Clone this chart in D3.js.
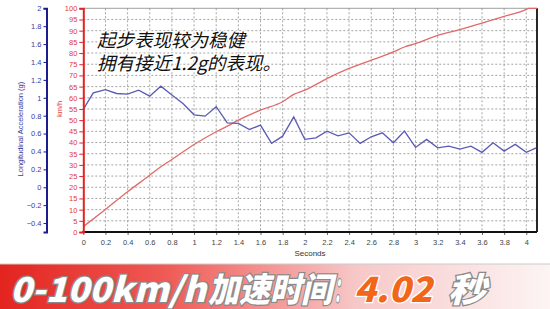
<!DOCTYPE html>
<html>
<head>
<meta charset="utf-8">
<script src="https://cdn.jsdelivr.net/npm/d3@7"></script>
<style>
  body { margin: 0; background: #fff; }
  svg { display: block; }
</style>
</head>
<body>
<script>
const width = 550;
const height = 309;

// time axis (s)
const times = [0, 0.09, 0.2, 0.3, 0.4, 0.5, 0.6, 0.7, 0.8, 0.9, 1.0, 1.1, 1.2, 1.3, 1.4, 1.5, 1.6, 1.7, 1.8, 1.9,
  2.0, 2.1, 2.2, 2.3, 2.4, 2.5, 2.6, 2.7, 2.8, 2.9, 3.0, 3.1, 3.2, 3.3, 3.4, 3.5, 3.6, 3.7, 3.8, 3.9, 4.0, 4.09];
// longitudinal acceleration (g)
const accel = [0.87, 1.055, 1.09, 1.048, 1.04, 1.085, 1.018, 1.13, 1.03, 0.936, 0.81, 0.795, 0.90, 0.72, 0.713, 0.646, 0.694, 0.49, 0.571, 0.787,
  0.535, 0.553, 0.627, 0.575, 0.608, 0.49, 0.564, 0.608, 0.497, 0.627, 0.445, 0.535, 0.441, 0.46, 0.426, 0.46, 0.39, 0.497, 0.404, 0.479, 0.39, 0.441];

// speed curve (km/h)
const speedTimes = [0, 0.2, 0.4, 0.6, 0.7, 0.8, 1.0, 1.2, 1.3, 1.4, 1.6, 1.8, 1.9, 2.0, 2.2, 2.4, 2.6, 2.8, 2.9, 3.0, 3.2, 3.4, 3.6, 3.8, 4.0, 4.02, 4.096];
const speeds = [2.4, 10.1, 18, 25.4, 29.2, 32.4, 39.1, 44.8, 47.3, 50, 54.5, 58.2, 61.5, 63.4, 68.6, 73.1, 76.8, 80.5, 82.7, 84.2, 87.9, 90.5, 93.4, 96.4, 99.5, 100, 100];

const xTicks = d3.range(0, 4.01, 0.2).map(v => +v.toFixed(1));
const speedTicks = d3.range(0, 101, 5);
const accelTicks = d3.range(-0.4, 2.01, 0.2).map(v => +v.toFixed(1));

const annotation = ["起步表现较为稳健", "拥有接近1.2g的表现。"];

const plotLeft = 83.3, plotRight = 537, plotTop = 8.3, plotBottom = 232;

const x = d3.scaleLinear().domain([0, 4]).range([plotLeft, 526.3]);
const ySpeed = d3.scaleLinear().domain([0, 100]).range([plotBottom, plotTop]);
const yAccel = d3.scaleLinear().domain([-0.5, 2]).range([plotBottom, plotTop]);

const svg = d3.select("body").append("svg")
  .attr("width", width)
  .attr("height", height)
  .style("font-family", "Arial, 'Liberation Sans', sans-serif");

svg.append("rect").attr("width", width).attr("height", height).attr("fill", "#fff");

// grid
const grid = svg.append("g")
  .attr("stroke", "#9a9a9a")
  .attr("stroke-width", 0.9)
  .attr("stroke-dasharray", "2,2");

grid.selectAll("line.v")
  .data(xTicks.filter(d => d > 0))
  .join("line")
    .attr("class", "v")
    .attr("x1", d => x(d)).attr("x2", d => x(d))
    .attr("y1", plotTop).attr("y2", plotBottom);

grid.selectAll("line.h")
  .data(speedTicks.filter(d => d > 0 && d < 100))
  .join("line")
    .attr("class", "h")
    .attr("x1", plotLeft).attr("x2", plotRight)
    .attr("y1", d => ySpeed(d)).attr("y2", d => ySpeed(d));

// frame top + right
svg.append("line")
  .attr("x1", plotLeft).attr("x2", plotRight)
  .attr("y1", plotTop).attr("y2", plotTop)
  .attr("stroke", "#888").attr("stroke-width", 0.8);
svg.append("line")
  .attr("x1", plotRight).attr("x2", plotRight)
  .attr("y1", plotTop).attr("y2", plotBottom)
  .attr("stroke", "#111").attr("stroke-width", 1.8);

// lines
const speedLine = d3.line()
  .x((d, i) => x(speedTimes[i]))
  .y(d => ySpeed(d))
  .curve(d3.curveMonotoneX);

svg.append("path")
  .datum(speeds)
  .attr("fill", "none")
  .attr("stroke", "#e06a6a")
  .attr("stroke-width", 1.3)
  .attr("d", speedLine);

const accelLine = d3.line()
  .x((d, i) => x(times[i]))
  .y(d => yAccel(d));

svg.append("path")
  .datum(accel)
  .attr("fill", "none")
  .attr("stroke", "#5a5ab4")
  .attr("stroke-width", 1.3)
  .attr("d", accelLine);

// x axis
const xAxis = svg.append("g")
  .attr("transform", `translate(0,${plotBottom})`)
  .call(d3.axisBottom(x).tickValues(xTicks).tickFormat(d3.format("~g")).tickSize(3).tickPadding(5));
xAxis.select(".domain").remove();
xAxis.selectAll(".tick line").attr("stroke", "#666");
xAxis.selectAll("text").attr("fill", "#444").style("font-size", "7.5px");
svg.append("line")
  .attr("x1", plotLeft - 1).attr("x2", plotRight)
  .attr("y1", plotBottom).attr("y2", plotBottom)
  .attr("stroke", "#111").attr("stroke-width", 2);

svg.append("text")
  .attr("x", 310).attr("y", 256)
  .attr("text-anchor", "middle")
  .attr("fill", "#333")
  .style("font-size", "8px")
  .text("Seconds");

// speed axis (red)
const speedAxis = svg.append("g")
  .attr("transform", `translate(${plotLeft},0)`)
  .call(d3.axisLeft(ySpeed).tickValues(speedTicks).tickSize(4).tickPadding(2));
speedAxis.select(".domain").attr("stroke", "#e02424").attr("stroke-width", 2);
speedAxis.selectAll(".tick line").attr("stroke", "#e02424");
speedAxis.selectAll("text").attr("fill", "#e03a3a").style("font-size", "7.5px");

svg.append("text")
  .attr("transform", `translate(62,${ySpeed(55)}) rotate(-90)`)
  .attr("text-anchor", "middle")
  .attr("fill", "#e03a3a")
  .style("font-size", "7.5px")
  .text("km/h");

// accel axis (blue)
const accelAxis = svg.append("g")
  .attr("transform", "translate(46.5,0)")
  .call(d3.axisLeft(yAccel).tickValues(accelTicks).tickFormat(d3.format("~g")).tickSize(3).tickPadding(2));
accelAxis.select(".domain").attr("stroke", "#1c1c8c").attr("stroke-width", 2);
accelAxis.selectAll(".tick line").attr("stroke", "#1c1c8c");
accelAxis.selectAll("text").attr("fill", "#3a3aa0").style("font-size", "7.5px");

svg.append("text")
  .attr("transform", `translate(23,${yAccel(0.65)}) rotate(-90)`)
  .attr("text-anchor", "middle")
  .attr("fill", "#3a3aa0")
  .style("font-size", "7.5px")
  .text("Longitudinal Acceleration (g)");

// annotation (one text block, two lines)
svg.append("text")
  .attr("fill", "#111")
  .attr("stroke", "#fff")
  .attr("stroke-width", 2.5)
  .attr("paint-order", "stroke")
  .style("font-family", "'Noto Sans CJK SC', sans-serif")
  .style("font-style", "italic")
  .style("font-size", "18.5px")
  .selectAll("tspan")
  .data(annotation)
  .join("tspan")
    .attr("x", 97)
    .attr("y", (d, i) => 47 + i * 23)
    .text(d => d);

// bottom banner
const defs = svg.append("defs");
const grad = defs.append("linearGradient").attr("id", "banner").attr("x1", "0").attr("x2", "1");
grad.append("stop").attr("offset", "0").attr("stop-color", "#e3241f");
grad.append("stop").attr("offset", "0.3").attr("stop-color", "#ef5a55");
grad.append("stop").attr("offset", "0.65").attr("stop-color", "#f7c8c8");
grad.append("stop").attr("offset", "1").attr("stop-color", "#fdf4f4");

svg.append("rect")
  .attr("x", 0).attr("y", 264).attr("width", width).attr("height", height - 264)
  .attr("fill", "url(#banner)");
svg.append("line")
  .attr("x1", 0).attr("x2", width).attr("y1", 264).attr("y2", 264)
  .attr("stroke", "#ccc").attr("stroke-width", 1);

const bannerParts = [
  { text: "0-100km/h", x: 10, w: 196, fill: "#fff", stroke: "#8a8a8a" },
  { text: "加速时间", x: 208, w: 124, fill: "#fff", stroke: "#8a8a8a" },
  { text: "：", x: 334, w: 14, fill: "#fff", stroke: "#8a8a8a" },
  { text: "4.02", x: 354, w: 78, fill: "#f2661a", stroke: "#fff" },
  { text: "秒", x: 448, w: 38, fill: "#fff", stroke: "#8a8a8a" }
];

svg.append("text")
  .attr("y", 302)
  .attr("stroke-width", 2.5)
  .attr("paint-order", "stroke")
  .style("font-family", "'Noto Sans CJK SC', sans-serif")
  .style("font-weight", "900")
  .style("font-style", "italic")
  .style("font-size", "34px")
  .selectAll("tspan")
  .data(bannerParts)
  .join("tspan")
    .attr("x", d => d.x)
    .attr("textLength", d => d.w)
    .attr("lengthAdjust", "spacingAndGlyphs")
    .attr("fill", d => d.fill)
    .attr("stroke", d => d.stroke)
    .text(d => d.text);
</script>
</body>
</html>
